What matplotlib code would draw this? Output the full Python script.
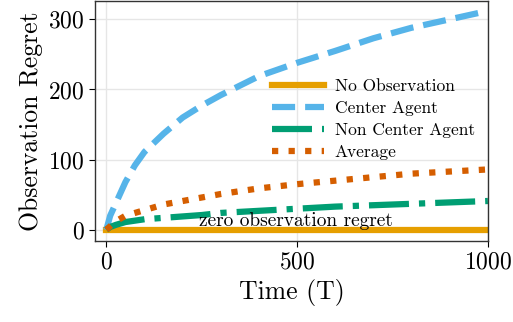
import matplotlib
matplotlib.use("Agg")
import matplotlib.pyplot as plt

plt.rcParams["font.family"] = "serif"
plt.rcParams["font.serif"] = ["cmr10"]
plt.rcParams["mathtext.fontset"] = "cm"
plt.rcParams["axes.formatter.use_mathtext"] = True

# values
T = [0, 10, 25, 50, 75, 100, 150, 200, 250, 300, 400, 500, 600, 700, 800, 900, 1000]
no_obs = [0] * len(T)
center = [0, 20, 38, 68, 92, 111, 137, 160, 177, 192, 219, 238, 255, 273, 288, 300, 312]
non_center = [0, 4, 7, 11, 13, 15, 17, 19, 21, 24, 27, 30, 33, 35, 37, 39, 41]
average = [0, 5, 12, 20, 24, 28, 36, 41, 46, 51, 59, 65, 70, 75, 80, 83, 86]

fig = plt.figure(figsize=(5.13, 3.22), dpi=100)
ax = fig.add_axes([0.185, 0.2516, 0.766, 0.745])

lw = 4.5
ax.plot(T, no_obs, color="#E69F00", lw=lw, ls="-", label="No Observation")
ax.plot(T, center, color="#56B4E9", lw=lw, ls="--", label="Center Agent")
ax.plot(T, non_center, color="#009E73", lw=lw, ls="-.", label="Non Center Agent")
ax.plot(T, average, color="#D55E00", lw=lw, ls=":", label="Average")

ax.text(497, 4.7, "zero observation regret", ha="center", va="baseline", fontsize=14)

ax.set_xlim(-30, 1000)
ax.set_ylim(-16, 326)
ax.set_xticks([0, 500, 1000])
ax.set_yticks([0, 100, 200, 300])
ax.grid(True, color="#e6e6e6", lw=1)
ax.set_axisbelow(True)
ax.tick_params(labelsize=17, direction="out", length=4, width=0.8)
for s in ax.spines.values():
    s.set_color("#333333")
    s.set_linewidth(1)

ax.set_xlabel("Time (T)", fontsize=18.5)
ax.set_ylabel("Observation Regret", fontsize=18.5)

ax.legend(loc="center right", bbox_to_anchor=(0.967, 0.506), frameon=False,
          fontsize=12.5, handlelength=3.0, handletextpad=0.6, labelspacing=0.38,
          borderpad=0, borderaxespad=0)

fig.savefig("out.png", dpi=100)
